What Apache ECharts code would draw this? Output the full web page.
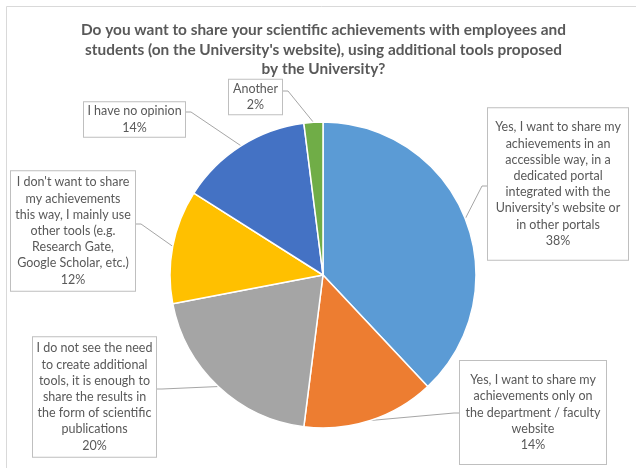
<!DOCTYPE html>
<html>
<head>
<meta charset="utf-8">
<script src="https://cdn.jsdelivr.net/npm/echarts@6/dist/echarts.min.js"></script>
<style>
  html, body { margin: 0; padding: 0; background: #fff; }
  #chart { width: 636px; height: 468px; }
</style>
</head>
<body>
<div id="chart"></div>
<script>
// Survey answers, clockwise from 12 o'clock
const categories = [
  "Yes, I want to share my\nachievements in an\naccessible way, in a\ndedicated portal\nintegrated with the\nUniversity's website or\nin other portals",
  "Yes, I want to share my\nachievements only on\nthe department / faculty\nwebsite",
  "I do not see the need\nto create additional\ntools, it is enough to\nshare the results in\nthe form of scientific\npublications",
  "I don't want to share\nmy achievements\nthis way, I mainly use\nother tools (e.g.\nResearch Gate,\nGoogle Scholar, etc.)",
  "I have no opinion",
  "Another"
];
const shares = [38, 14, 20, 12, 14, 2];
const colors = ['#5B9BD5', '#ED7D31', '#A5A5A5', '#FFC000', '#4472C4', '#70AD47'];

const titleText = "Do you want to share your scientific achievements with employees and\nstudents (on the University's website), using additional tools proposed\nby the University?";

// Label boxes: [left, top, right, bottom], y of leader attachment, side of box the leader enters
const labelBoxes = [
  { box: [487, 108, 629, 260], lineY: 186, side: 'left',  padV: 11 },
  { box: [459, 361, 607, 464], lineY: 413, side: 'left',  padV: 11 },
  { box: [32, 337, 157, 457],  lineY: 389, side: 'right', padV: 3 },
  { box: [10, 171, 136, 291],  lineY: 224, side: 'right', padV: 3 },
  { box: [83, 102, 186, 137],  lineY: 112, side: 'right', padV: 1 },
  { box: [228, 79, 283, 115],  lineY: 91,  side: 'right', padV: 1 }
];

const chart = echarts.init(document.getElementById('chart'), null, { renderer: 'canvas' });

const data = categories.map((name, i) => {
  const b = labelBoxes[i].box;
  return {
    name: name,
    value: shares[i],
    itemStyle: { color: colors[i] },
    label: {
      width: b[2] - b[0] - 6,
      padding: [labelBoxes[i].padV, 2, labelBoxes[i].padV, 2]
    }
  };
});

chart.setOption({
  animation: false,
  backgroundColor: '#fff',
  title: {
    text: titleText,
    left: 323.5,
    top: 20.5,
    padding: 0,
    textAlign: 'center',
    textStyle: {
      fontFamily: 'Lato, "Open Sans", sans-serif',
      fontWeight: 'bold',
      fontSize: 15.4,
      lineHeight: 19.5,
      color: '#595959'
    }
  },
  graphic: [{
    type: 'rect',
    shape: { x: 6.5, y: 6.5, width: 640, height: 480 },
    style: { fill: 'none', stroke: '#d9d9d9', lineWidth: 1 },
    silent: true,
    z: -1
  }],
  series: [{
    type: 'pie',
    center: [323, 275],
    radius: 153,
    startAngle: 90,
    clockwise: true,
    avoidLabelOverlap: false,
    itemStyle: { borderColor: '#fff', borderWidth: 1.5 },
    label: {
      show: true,
      position: 'outside',
      formatter: p => p.name + '\n' + p.value + '%',
      fontFamily: 'Lato, "Open Sans", sans-serif',
      fontSize: 12.5,
      lineHeight: 16.2,
      color: '#595959',
      align: 'center',
      backgroundColor: '#fff',
      borderColor: '#bfbfbf',
      borderWidth: 1
    },
    labelLine: {
      show: true,
      lineStyle: { color: '#a6a6a6', width: 1 }
    },
    labelLayout: function (params) {
      const cfg = labelBoxes[params.dataIndex];
      const b = cfg.box;
      const cx = (b[0] + b[2]) / 2;
      const cy = (b[1] + b[3]) / 2;
      const start = params.labelLinePoints ? params.labelLinePoints[0] : [cx, cy];
      const edgeX = cfg.side === 'left' ? b[0] : b[2];
      const elbowX = cfg.side === 'left' ? edgeX - 5 : edgeX + 5;
      return {
        x: cx,
        y: cy,
        align: 'center',
        verticalAlign: 'middle',
        labelLinePoints: [start, [elbowX, cfg.lineY], [edgeX, cfg.lineY]]
      };
    },
    data: data
  }]
});
</script>
</body>
</html>
